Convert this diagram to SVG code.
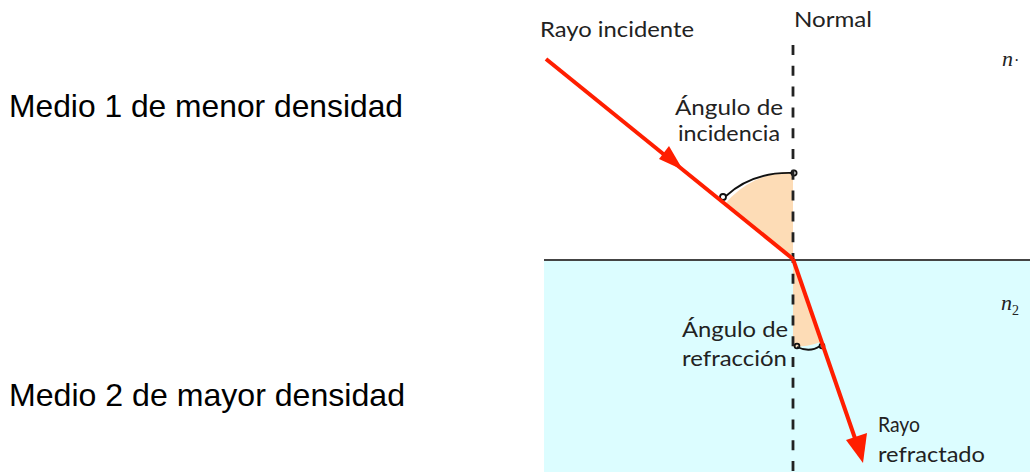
<svg xmlns="http://www.w3.org/2000/svg" width="1030" height="472" viewBox="0 0 1030 472">
<style>
.lbl{font-family:"Liberation Sans",Arial,sans-serif;font-size:32px;fill:#000}
.fig{font-family:"Lato","Liberation Sans",sans-serif;font-size:21px;fill:#222}
.sym{font-family:"Liberation Serif",serif;font-style:italic;font-size:22px;fill:#222}
.ray{stroke:#ff1e00;stroke-width:4;fill:none}
.head{fill:#ff1e00}
.wedge{fill:#fddcb6}
.arc{stroke:#111;stroke-width:1.8;fill:none}
</style>
<rect x="0" y="0" width="1030" height="472" fill="#fff"/>
<g id="medium2">
<rect x="544" y="260" width="486" height="212" fill="#dcfdff"/>
<line x1="544" y1="260" x2="1030" y2="260" stroke="#444" stroke-width="2.2"/>
</g>
<g id="wedges">
<path class="wedge" d="M793,259 L793,172 A87,87 0 0,0 725,204 Z"/>
<path class="wedge" d="M793,261 L793,347 A87,87 0 0,0 821,342 Z"/>
<path class="arc" d="M792,173 Q752,172 726,196"/>
<circle class="arc" cx="723" cy="197" r="3"/>
<circle class="arc" cx="794" cy="173" r="2.6"/>
<path class="arc" d="M797,347 Q810,353 820,346"/>
<circle class="arc" cx="797" cy="346" r="2.4"/>
<circle class="arc" cx="822" cy="346" r="2.4"/>
</g>
<g id="normal">
<line x1="793" y1="45" x2="793" y2="472" stroke="#222" stroke-width="2.8" stroke-dasharray="10,10.8"/>
<text class="fig" x="794" y="27" textLength="78" lengthAdjust="spacingAndGlyphs">Normal</text>
</g>
<g id="connectors">
<line class="ray" x1="546" y1="59" x2="793" y2="259"/>
<polygon class="head" points="683,170 659,159 669,146"/>
<line class="ray" x1="793" y1="259" x2="858" y2="447"/>
<polygon class="head" points="863,463 846,440 867,433"/>
</g>
<g id="labels">
<text class="lbl" x="9" y="117" textLength="394" lengthAdjust="spacingAndGlyphs">Medio 1 de menor densidad</text>
<text class="lbl" x="9" y="406" textLength="396" lengthAdjust="spacingAndGlyphs">Medio 2 de mayor densidad</text>
<text class="fig" x="540" y="37" textLength="154" lengthAdjust="spacingAndGlyphs">Rayo incidente</text>
<text class="fig" x="783" y="115" text-anchor="end" textLength="108" lengthAdjust="spacingAndGlyphs">Ángulo de</text>
<text class="fig" x="780" y="141" text-anchor="end" textLength="102" lengthAdjust="spacingAndGlyphs">incidencia</text>
<text class="fig" x="788" y="337" text-anchor="end" textLength="106" lengthAdjust="spacingAndGlyphs">Ángulo de</text>
<text class="fig" x="787" y="366" text-anchor="end" textLength="105" lengthAdjust="spacingAndGlyphs">refracción</text>
<text class="fig" x="878" y="432" textLength="42" lengthAdjust="spacingAndGlyphs">Rayo</text>
<text class="fig" x="878" y="462" textLength="107" lengthAdjust="spacingAndGlyphs">refractado</text>
<text class="sym" x="1002" y="66">n<tspan font-style="normal" font-size="16" dx="1">·</tspan></text>
<text class="sym" x="1001" y="310">n<tspan font-style="normal" font-size="14" dy="5">2</tspan></text>
</g>
</svg>
